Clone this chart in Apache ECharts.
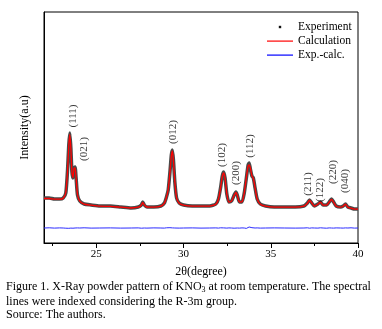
<!DOCTYPE html>
<html>
<head>
<meta charset="utf-8">
<script src="https://cdn.jsdelivr.net/npm/echarts@6/dist/echarts.min.js"></script>
<style>
  html, body { margin: 0; padding: 0; background: #fff; }
  #xrd { width: 382px; height: 329px; }
</style>
</head>
<body>
<div id="xrd"></div>
<script>
// 2theta (degree)
var twoTheta = [22.0, 22.3, 22.6, 22.9, 23.1, 23.25, 23.35, 23.42, 23.48, 23.54,
    23.6, 23.66, 23.72, 23.78, 23.84, 23.92, 24.05, 24.3, 24.7, 25.2,
    25.8, 26.4, 27.0, 27.4, 27.58, 27.66, 27.75, 27.9, 28.3, 28.7,
    28.9, 29.02, 29.12, 29.22, 29.3, 29.36, 29.42, 29.5, 29.6, 29.75,
    30.0, 30.5, 31.0, 31.5, 31.85, 32.0, 32.12, 32.22, 32.3, 32.38,
    32.48, 32.6, 32.75, 32.9, 33.0, 33.08, 33.2, 33.35, 33.48, 33.6,
    33.7, 33.76, 33.83, 33.92, 34.0, 34.1, 34.22, 34.4, 34.7, 35.2,
    35.8, 36.4, 36.9, 37.1, 37.22, 37.35, 37.5, 37.7, 37.85, 38.0,
    38.2, 38.35, 38.48, 38.6, 38.75, 39.0, 39.15, 39.28, 39.42, 39.6,
    39.8, 40.0];
var experiment = [450, 450, 440, 440, 450, 500, 730, 980, 1100, 950,
    710, 650, 750, 760, 650, 480, 420, 390, 380, 370,
    370, 360, 350, 360, 380, 410, 380, 360, 360, 370,
    400, 460, 530, 710, 880, 930, 830, 610, 450, 400,
    380, 370, 370, 370, 390, 440, 550, 670, 710, 650,
    490, 410, 420, 480, 510, 480, 410, 410, 500, 650,
    780, 800, 740, 670, 650, 550, 440, 390, 370, 360,
    360, 360, 370, 400, 430, 400, 370, 390, 410, 380,
    380, 410, 440, 410, 370, 360, 370, 390, 360, 350,
    340, 340];
var calculation = [445, 445, 438, 438, 448, 505, 720, 970, 1085, 945,
    705, 655, 745, 750, 655, 485, 418, 388, 378, 368,
    366, 358, 350, 358, 378, 405, 380, 360, 358, 368,
    398, 458, 535, 705, 870, 920, 825, 615, 452, 398,
    378, 368, 368, 368, 388, 438, 548, 665, 700, 648,
    492, 410, 418, 476, 505, 478, 410, 412, 502, 655,
    770, 780, 750, 672, 645, 552, 440, 388, 368, 358,
    358, 358, 368, 398, 428, 400, 368, 388, 408, 378,
    378, 408, 436, 408, 368, 358, 368, 388, 358, 348,
    338, 338];
var expCalc = [150, 152, 149, 151, 150, 148, 153, 147, 152, 149,
    151, 148, 152, 150, 149, 151, 150, 152, 149, 150,
    151, 149, 150, 151, 148, 152, 150, 149, 151, 150,
    149, 152, 148, 153, 147, 151, 149, 150, 152, 149,
    150, 151, 149, 150, 151, 149, 152, 148, 151, 150,
    149, 151, 150, 148, 152, 150, 149, 151, 150, 146,
    156, 160, 142, 153, 149, 150, 151, 149, 150, 151,
    150, 149, 150, 152, 148, 151, 150, 149, 152, 150,
    148, 151, 150, 149, 151, 150, 149, 151, 150, 152,
    149, 150];

// peak indexes (hkl) and where their labels sit
var peakNames = ['(111)', '(021)', '(012)', '(102)', '(200)', '(112)', '(211)', '(122)', '(220)', '(040)'];
var peakLabelX = [23.66, 24.31, 29.38, 32.22, 33.01, 33.81, 37.14, 37.83, 38.57, 39.26];
var peakLabelY = [1270, 940, 1110, 880, 700, 970, 590, 530, 710, 620];

var majorTicks = [25, 30, 35, 40];
var minorTicks = [22.5, 27.5, 32.5, 37.5];
var tickLabels = [25, 30, 35, 40];

var serif = 'Liberation Serif';

function pairs(xs, ys) {
    var out = [];
    for (var i = 0; i < xs.length; i++) {
        out.push([xs[i], ys[i]]);
    }
    return out;
}

var labelData = [];
for (var i = 0; i < peakNames.length; i++) {
    labelData.push({name: peakNames[i], value: [peakLabelX[i], peakLabelY[i]]});
}

var myChart = echarts.init(document.getElementById('xrd'));
var option = {
    animation: false,
    textStyle: {fontFamily: serif},
    grid: {
        left: 44, right: 24, top: 12, bottom: 86,
        show: true, borderColor: '#000', borderWidth: 1
    },
    legend: {
        orient: 'vertical',
        left: 267,
        top: 21,
        padding: 0,
        itemWidth: 26,
        itemHeight: 10,
        itemGap: 2,
        textStyle: {fontFamily: serif, fontSize: 11.5, color: '#000'},
        data: [
            {name: 'Experiment', icon: 'path://M0,0 M11.8,3.8 L14.2,3.8 L14.2,6.2 L11.8,6.2 Z M26,10', itemStyle: {color: '#111'}},
            {name: 'Calculation', icon: 'path://M0,0 M0,4.5 L26,4.5 L26,5.7 L0,5.7 Z M26,10'},
            {name: 'Exp.-calc.', icon: 'path://M0,0 M0,4.5 L26,4.5 L26,5.7 L0,5.7 Z M26,10'}
        ]
    },
    xAxis: [
        {
            type: 'value',
            min: 22,
            max: 40,
            position: 'bottom',
            name: '2θ(degree)',
            nameLocation: 'middle',
            nameGap: 23,
            nameTextStyle: {fontFamily: serif, fontSize: 12, color: '#000'},
            axisLine: {lineStyle: {color: '#000', width: 1}},
            axisTick: {show: true, inside: false, length: 5, customValues: majorTicks, lineStyle: {color: '#000'}},
            axisLabel: {customValues: tickLabels, fontFamily: serif, fontSize: 11, color: '#000', margin: 6},
            splitLine: {show: false}
        },
        {
            type: 'value',
            min: 22,
            max: 40,
            position: 'bottom',
            axisLine: {show: false},
            axisTick: {show: true, inside: false, length: 3, customValues: minorTicks, lineStyle: {color: '#000'}},
            axisLabel: {show: false},
            splitLine: {show: false}
        }
    ],
    yAxis: {
        type: 'value',
        min: 0,
        max: 2310,
        name: 'Intensity(a.u)',
        nameLocation: 'middle',
        nameGap: 13,
        nameRotate: 90,
        nameTextStyle: {fontFamily: serif, fontSize: 12, color: '#000'},
        axisLine: {show: true, lineStyle: {color: '#000', width: 1}},
        axisTick: {show: false},
        axisLabel: {show: false},
        splitLine: {show: false}
    },
    series: [
        {
            name: 'Experiment',
            type: 'line',
            xAxisIndex: 0,
            smooth: 0.2,
            showSymbol: false,
            data: pairs(twoTheta, experiment),
            lineStyle: {color: '#4a4a4a', width: 3.5},
            itemStyle: {color: '#4a4a4a'},
            z: 2
        },
        {
            name: 'Calculation',
            type: 'line',
            xAxisIndex: 0,
            smooth: 0.2,
            showSymbol: false,
            data: pairs(twoTheta, calculation),
            lineStyle: {color: '#ff0000', width: 1.3},
            itemStyle: {color: '#ff0000'},
            z: 3
        },
        {
            name: 'Exp.-calc.',
            type: 'line',
            xAxisIndex: 0,
            showSymbol: false,
            data: pairs(twoTheta, expCalc),
            lineStyle: {color: '#2a2aff', width: 1},
            itemStyle: {color: '#0000ff'},
            z: 3
        },
        {
            name: 'hkl',
            type: 'scatter',
            xAxisIndex: 0,
            symbolSize: 0,
            data: labelData,
            silent: true,
            label: {
                show: true,
                position: 'inside',
                rotate: 90,
                formatter: '{b}',
                fontFamily: serif,
                fontSize: 11,
                color: '#000'
            },
            z: 4
        }
    ],
    graphic: [
        {
            type: 'text',
            left: 6,
            top: 281,
            style: {
                text: 'Figure 1. X-Ray powder pattern of KNO{sub|3} at room temperature. The spectral',
                fill: '#000',
                font: '12px "Liberation Serif"',
                rich: {sub: {fontSize: 8, fontFamily: serif, padding: [6, 0, 0, 0]}}
            }
        },
        {
            type: 'text',
            left: 6,
            top: 296,
            style: {
                text: 'lines were indexed considering the R-3m group.',
                fill: '#000',
                font: '12px "Liberation Serif"'
            }
        },
        {
            type: 'text',
            left: 6,
            top: 309,
            style: {
                text: 'Source: The authors.',
                fill: '#000',
                font: '12px "Liberation Serif"'
            }
        }
    ]
};
myChart.setOption(option);
</script>
</body>
</html>
